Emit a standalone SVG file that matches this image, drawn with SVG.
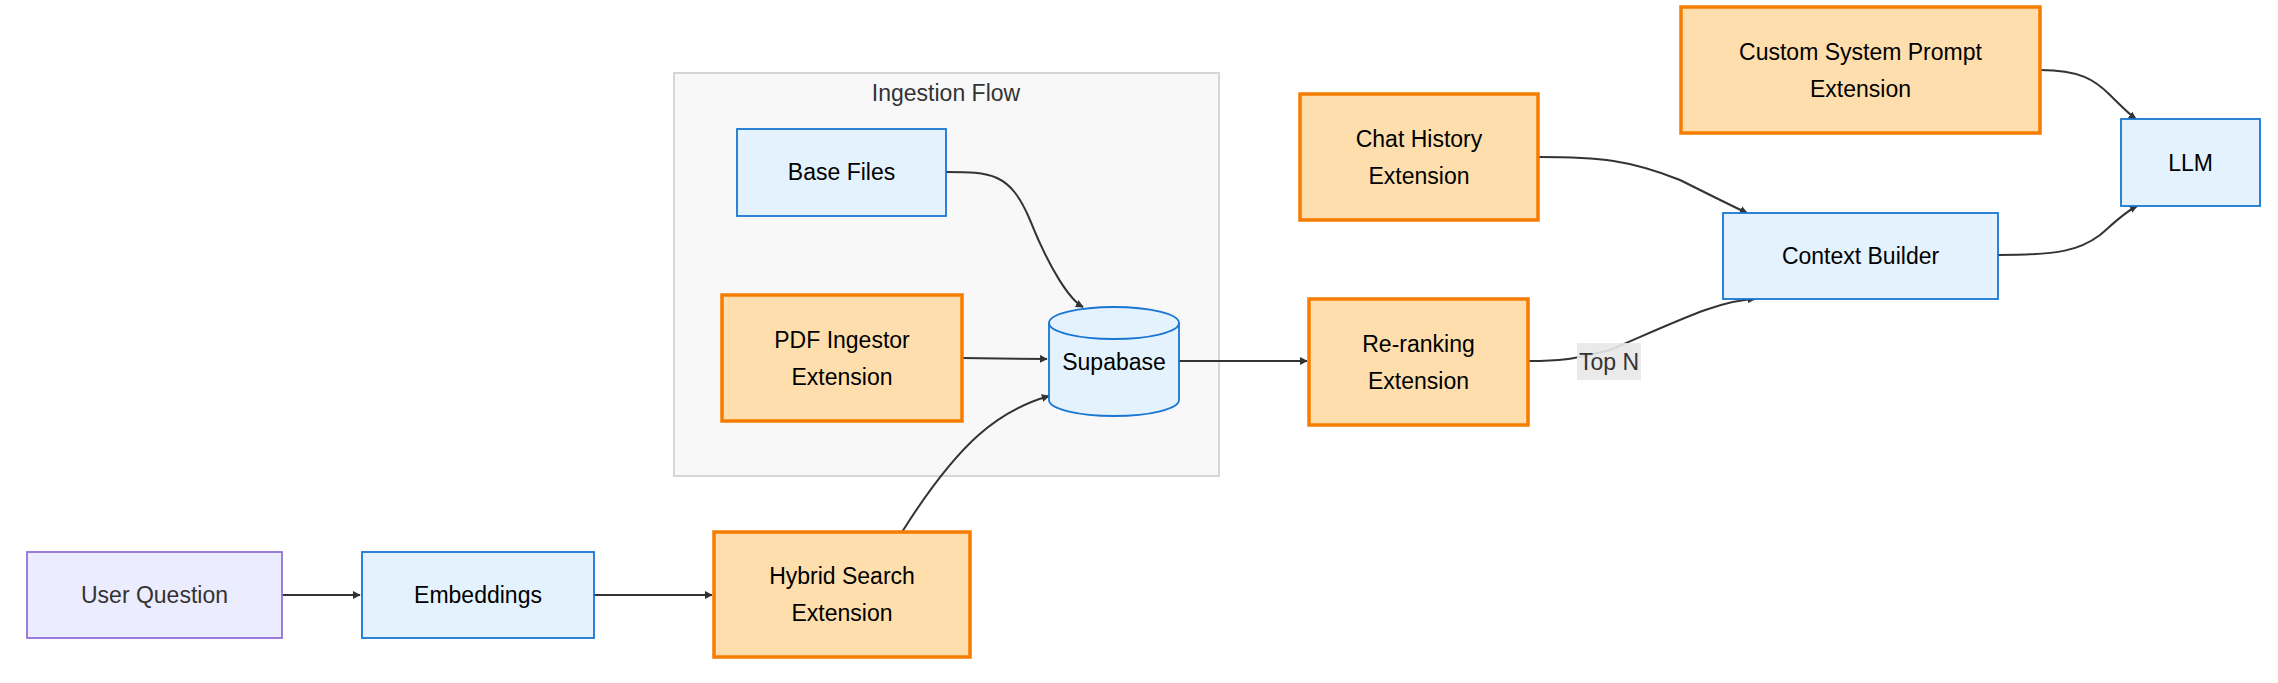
<svg xmlns="http://www.w3.org/2000/svg" width="2278" height="683" viewBox="0 0 2278 683">
<style>
text{font-family:"Liberation Sans",Arial,sans-serif;font-size:23px;text-anchor:middle;dominant-baseline:central;fill:#000}
.ext{fill:#ffdead;stroke:#f57c00;stroke-width:3.5}
.blue{fill:#e3f2fd;stroke:#1976d2;stroke-width:1.8}
.edge{fill:none;stroke:#333;stroke-width:2}
</style>
<defs>
<marker id="arr" viewBox="0 0 10 10" refX="9" refY="5" markerWidth="8" markerHeight="8" markerUnits="userSpaceOnUse" orient="auto"><path d="M0,0L10,5L0,10z" fill="#333"/></marker>
</defs>
<g id="cluster-ingestion">
<rect x="674" y="73" width="545" height="403" fill="#f8f8f8" stroke="#d6d6d6" stroke-width="2"/>
<text x="946" y="93" style="fill:#333">Ingestion Flow</text>
</g>
<g id="connectors">
<path class="edge" d="M282,595H360" marker-end="url(#arr)"/>
<path class="edge" d="M594,595H712" marker-end="url(#arr)"/>
<path class="edge" d="M902,532C960,440 1000,410 1049,396" marker-end="url(#arr)"/>
<path class="edge" d="M946,172C990,172 1010,172 1030,220C1050,270 1070,300 1083,307" marker-end="url(#arr)"/>
<path class="edge" d="M962,358L1047,359" marker-end="url(#arr)"/>
<path class="edge" d="M1179,361H1307" marker-end="url(#arr)"/>
<path class="edge" d="M1528,361C1560,361 1570,360 1610,350C1680,320 1720,300 1755,299" marker-end="url(#arr)"/>
<path class="edge" d="M1538,157C1600,157 1630,160 1680,180C1710,195 1730,205 1747,213" marker-end="url(#arr)"/>
<path class="edge" d="M2040,70C2080,70 2095,80 2110,95C2120,105 2130,115 2136,119" marker-end="url(#arr)"/>
<path class="edge" d="M1998,255C2060,255 2080,250 2100,235C2115,222 2125,212 2137,206" marker-end="url(#arr)"/>
</g>
<g id="label-topn">
<rect x="1577" y="343" width="64" height="37" fill="#e8e8e8" opacity="0.9"/>
<text x="1609" y="362" style="fill:#333">Top N</text>
</g>
<g id="user-question"><rect x="27" y="552" width="255" height="86" fill="#ececff" stroke="#9370db" stroke-width="1.8"/><text x="154.5" y="595" style="fill:#333">User Question</text></g>
<g id="embeddings"><rect class="blue" x="362" y="552" width="232" height="86"/><text x="478" y="595">Embeddings</text></g>
<g id="hybrid-search"><rect class="ext" x="714" y="532" width="256" height="125"/><text x="842" y="576">Hybrid Search</text><text x="842" y="613">Extension</text></g>
<g id="base-files"><rect class="blue" x="737" y="129" width="209" height="87"/><text x="841.5" y="172">Base Files</text></g>
<g id="pdf-ingestor"><rect class="ext" x="722" y="295" width="240" height="126"/><text x="842" y="340">PDF Ingestor</text><text x="842" y="377">Extension</text></g>
<g id="supabase">
<path class="blue" d="M1049,323A65,16 0 0 1 1179,323V400A65,16 0 0 1 1049,400Z"/>
<path d="M1049,323A65,16 0 0 0 1179,323" fill="none" stroke="#1976d2" stroke-width="1.8"/>
<text x="1114" y="362">Supabase</text>
</g>
<g id="re-ranking"><rect class="ext" x="1309" y="299" width="219" height="126"/><text x="1418.5" y="344">Re-ranking</text><text x="1418.5" y="381">Extension</text></g>
<g id="chat-history"><rect class="ext" x="1300" y="94" width="238" height="126"/><text x="1419" y="139">Chat History</text><text x="1419" y="176">Extension</text></g>
<g id="context-builder"><rect class="blue" x="1723" y="213" width="275" height="86"/><text x="1860.5" y="256">Context Builder</text></g>
<g id="custom-prompt"><rect class="ext" x="1681" y="7" width="359" height="126"/><text x="1860.5" y="52">Custom System Prompt</text><text x="1860.5" y="89">Extension</text></g>
<g id="llm"><rect class="blue" x="2121" y="119" width="139" height="87"/><text x="2190.5" y="163">LLM</text></g>
</svg>
